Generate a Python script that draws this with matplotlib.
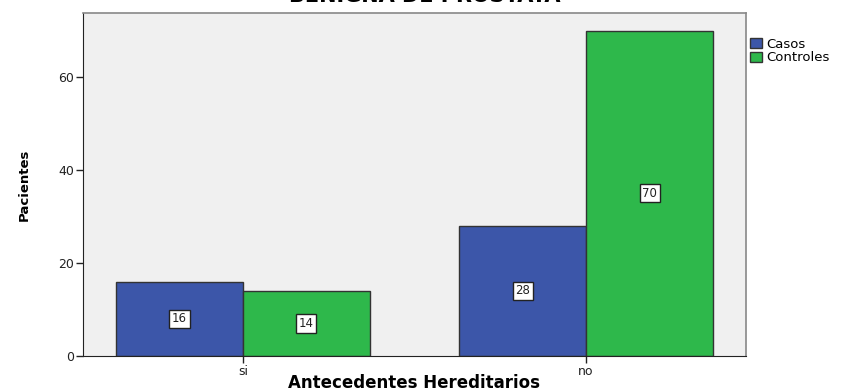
import numpy as np
import matplotlib
matplotlib.use("Agg")
import matplotlib.pyplot as plt

categorias = ["si", "no"]
casos = [16, 28]
controles = [14, 70]
series = ["Casos", "Controles"]
colores = ["#3c56a9", "#2eb84b"]

plt.rcParams["font.family"] = ["DejaVu Sans"]

fig = plt.figure(figsize=(8.42, 3.92), dpi=100)
ax = fig.add_axes([83 / 842, 36 / 392, 663 / 842, 343 / 392])
ax.set_facecolor("#f0f0f0")

x = np.arange(len(categorias))
ancho = 0.37
for i, (vals, nombre, color) in enumerate(zip([casos, controles], series, colores)):
    pos = x + (i - 0.5) * ancho
    ax.bar(pos, vals, width=ancho, color=color, edgecolor="#333333",
           linewidth=1.0, label=nombre, zorder=2)
    for p, v in zip(pos, vals):
        ax.text(p, v / 2, str(v), ha="center", va="center", fontsize=8.5,
                color="#222222",
                bbox=dict(boxstyle="square,pad=0.22", fc="white", ec="#222222", lw=1.0),
                zorder=3)

ax.set_xlim(-0.466, 1.466)
ax.set_ylim(0, 73.8)
ax.set_yticks([0, 20, 40, 60])
ax.set_xticks(x)
ax.set_xticklabels(categorias)
ax.tick_params(axis="both", labelsize=9, colors="#222222", length=5, width=1, pad=1.5)

for lado in ["top", "right"]:
    ax.spines[lado].set_color("#888888")
    ax.spines[lado].set_linewidth(1.2)
ax.spines["left"].set_color("#222222")
ax.spines["bottom"].set_color("#222222")

ax.set_ylabel("Pacientes", fontsize=9.5, fontweight="bold", labelpad=20)
ax.set_xlabel("Antecedentes Hereditarios", fontsize=12, fontweight="bold",
              va="center")
ax.xaxis.set_label_coords(0.5, -27 / 343)

# el título queda recortado en el borde superior de la figura
fig.text(0.505, 1 - 2.5 / 392, "BENIGNA DE PROSTATA", ha="center", va="baseline",
         fontsize=15, fontweight="bold")

ax.legend(loc="upper left", bbox_to_anchor=(1.0, 0.94), frameon=False,
          fontsize=9.5, handlelength=0.9, handleheight=0.8, handletextpad=0.35,
          borderaxespad=0.2, labelspacing=0.05, borderpad=0.1)

fig.savefig("out.png", dpi=100)
